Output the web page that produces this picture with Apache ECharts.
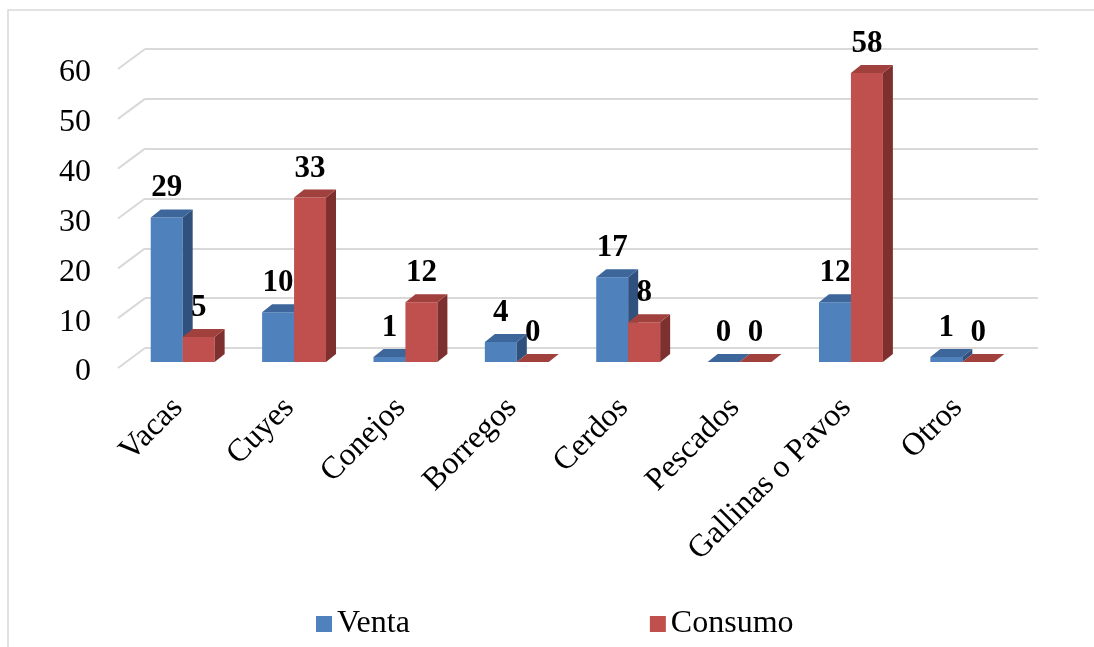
<!DOCTYPE html>
<html>
<head>
<meta charset="utf-8">
<title>Venta y Consumo</title>
<script src="https://cdn.jsdelivr.net/npm/echarts@6/dist/echarts.min.js"></script>
<style>
  html, body { margin: 0; padding: 0; background: #ffffff; }
  #chart { width: 1094px; height: 647px; }
</style>
</head>
<body>
<div id="chart"></div>
<script>
// Categories and values
const categories = ['Vacas', 'Cuyes', 'Conejos', 'Borregos', 'Cerdos', 'Pescados', 'Gallinas o Pavos', 'Otros'];
const venta = [29, 10, 1, 4, 17, 0, 12, 1];
const consumo = [5, 33, 12, 0, 8, 0, 58, 0];
const yTicks = [0, 10, 20, 30, 40, 50, 60];

const FONT = '"Liberation Serif", "Times New Roman", serif';
const DEPTH_X = 10, DEPTH_Y = -8;        // bar depth
const WALL_X = 27, WALL_Y = -20;         // depth of the back wall

const palette = [
  { front: '#4F81BD', top: '#3D669A', side: '#30517D' },
  { front: '#C0504D', top: '#A0413E', side: '#7E302E' }
];

// 3D-looking column: front face, top face, side face and a value label
function barRenderer(idx) {
  const c = palette[idx];
  return function (params, api) {
    const cat = api.value(0), v = api.value(1);
    const base = api.coord([cat, 0]);
    const top = api.coord([cat, v]);
    const band = api.size([1, 0])[0];
    const w = band * 0.287;
    const x0 = idx === 0 ? base[0] - w : base[0];
    const x1 = x0 + w;
    const y0 = base[1], yt = top[1];
    const children = [];
    if (v > 0) {
      children.push({
        type: 'rect',
        shape: { x: x0, y: yt, width: w, height: y0 - yt },
        style: { fill: c.front }
      });
      children.push({
        type: 'polygon',
        shape: { points: [[x1, yt], [x1 + DEPTH_X, yt + DEPTH_Y], [x1 + DEPTH_X, y0 + DEPTH_Y], [x1, y0]] },
        style: { fill: c.side }
      });
    }
    children.push({
      type: 'polygon',
      shape: { points: [[x0, yt], [x1, yt], [x1 + DEPTH_X, yt + DEPTH_Y], [x0 + DEPTH_X, yt + DEPTH_Y]] },
      style: { fill: c.top }
    });
    children.push({
      type: 'text',
      style: {
        x: x0 + w / 2, y: yt - 29,
        text: String(v),
        fill: '#000', font: 'bold 31px ' + FONT,
        align: 'center', verticalAlign: 'middle'
      },
      z2: 10
    });
    return { type: 'group', children: children };
  };
}

// Diagonal connectors from the front edge to the back wall gridlines
function wallRenderer(params, api) {
  const p = api.coord([0, api.value(0)]);
  const band = api.size([1, 0])[0];
  const x = p[0] - band / 2;
  return {
    type: 'line',
    shape: { x1: x, y1: p[1], x2: x + WALL_X, y2: p[1] + WALL_Y },
    style: { stroke: '#D9D9D9', lineWidth: 2 }
  };
}

const chart = echarts.init(document.getElementById('chart'), null, { renderer: 'canvas' });

chart.setOption({
  backgroundColor: '#ffffff',
  animation: false,
  textStyle: { fontFamily: FONT },
  graphic: [{
    type: 'rect',
    shape: { x: 8, y: 10, width: 1200, height: 800 },
    style: { fill: 'none', stroke: '#D9D9D9', lineWidth: 1.5 },
    silent: true
  }],
  legend: {
    data: ['Venta', 'Consumo'],
    left: 311, top: 603,
    icon: 'rect', itemWidth: 16, itemHeight: 16, itemGap: 240,
    textStyle: { fontFamily: FONT, fontSize: 32, color: '#000' }
  },
  grid: [
    // bars
    { left: 127, right: 76, top: 63, bottom: 285 },
    // front edge of the floor and walls
    { left: 118, right: 85, top: 69, bottom: 279 },
    // back wall (gridlines)
    { left: 145, right: 56, top: 49, bottom: 299 },
    // value axis labels
    { left: 118, right: 85, top: 73, bottom: 275 }
  ],
  xAxis: [
    {
      gridIndex: 0, type: 'category', data: categories,
      axisLine: { show: false }, axisTick: { show: false },
      axisLabel: {
        rotate: 45, margin: 36, padding: [0, 7, 0, 0],
        fontFamily: FONT, fontSize: 32, color: '#000', interval: 0
      }
    },
    { gridIndex: 1, type: 'category', data: categories, show: false },
    { gridIndex: 2, type: 'category', data: categories, show: false },
    { gridIndex: 3, type: 'category', data: categories, show: false }
  ],
  yAxis: [
    { gridIndex: 0, type: 'value', min: 0, max: 60, interval: 10, show: false },
    { gridIndex: 1, type: 'value', min: 0, max: 60, interval: 10, show: false },
    {
      gridIndex: 2, type: 'value', min: 0, max: 60, interval: 10,
      axisLine: { show: false }, axisTick: { show: false }, axisLabel: { show: false },
      splitLine: { show: true, lineStyle: { color: '#D9D9D9', width: 2 } }
    },
    {
      gridIndex: 3, type: 'value', min: 0, max: 60, interval: 10,
      axisLine: { show: false }, axisTick: { show: false }, splitLine: { show: false },
      axisLabel: { margin: 27, fontFamily: FONT, fontSize: 32, color: '#000' }
    }
  ],
  series: [
    {
      type: 'custom', name: 'wall', xAxisIndex: 1, yAxisIndex: 1,
      renderItem: wallRenderer, data: yTicks.map(t => [t]), silent: true, z: 1
    },
    {
      type: 'custom', name: 'Venta', xAxisIndex: 0, yAxisIndex: 0,
      itemStyle: { color: palette[0].front },
      renderItem: barRenderer(0),
      data: venta.map((v, i) => [i, v]), z: 3
    },
    {
      type: 'custom', name: 'Consumo', xAxisIndex: 0, yAxisIndex: 0,
      itemStyle: { color: palette[1].front },
      renderItem: barRenderer(1),
      data: consumo.map((v, i) => [i, v]), z: 4
    }
  ]
});
</script>
</body>
</html>
